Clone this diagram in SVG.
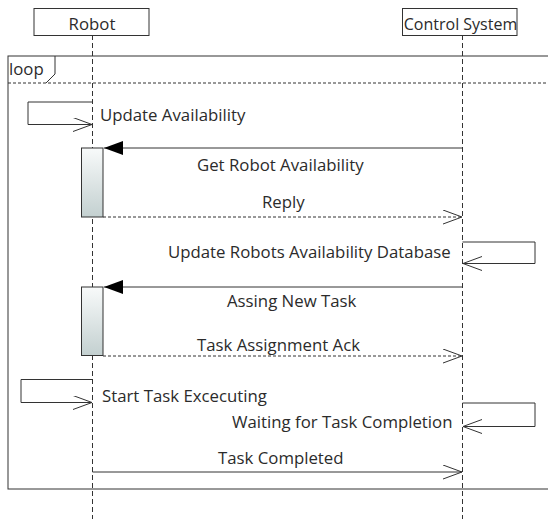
<svg xmlns="http://www.w3.org/2000/svg" width="548" height="519" viewBox="0 0 548 519">
  <style>
    text { font-family: "Open Sans", "Noto Sans", "DejaVu Sans", sans-serif; font-size: 16.8px; fill: #2b2b2b; }
    .box { fill: #ffffff; stroke: #333333; stroke-width: 1; }
    .life { stroke: #333333; stroke-width: 1; stroke-dasharray: 5 3; fill: none; }
    .frame { fill: none; stroke: #333333; stroke-width: 1; }
    .sep { stroke: #333333; stroke-width: 1; stroke-dasharray: 3 2; fill: none; }
    .msg { stroke: #333333; stroke-width: 1; fill: none; }
    .reply { stroke: #333333; stroke-width: 1; fill: none; stroke-dasharray: 3 2; }
    .act { fill: url(#actFill); stroke: #333333; stroke-width: 1; }
  </style>
  <defs>
    <linearGradient id="actFill" x1="0" y1="0" x2="0" y2="1">
      <stop offset="0" stop-color="#f8fafa"/>
      <stop offset="1" stop-color="#c3d0d0"/>
    </linearGradient>
    <marker id="open" markerUnits="userSpaceOnUse" markerWidth="22" markerHeight="16" refX="19" refY="7" orient="auto">
      <path d="M0,0 L19,7 L0,14" fill="none" stroke="#333333" stroke-width="1"/>
    </marker>
    <marker id="solid" markerUnits="userSpaceOnUse" markerWidth="22" markerHeight="16" refX="19" refY="7" orient="auto">
      <path d="M0,0 L19,7 L0,14 Z" fill="#000000"/>
    </marker>
  </defs>

  <rect width="548" height="519" fill="#ffffff"/>

  <!-- lifelines -->
  <g id="lifelines">
    <line class="life" x1="92.5" y1="35" x2="92.5" y2="519"/>
    <line class="life" x1="462.5" y1="35" x2="462.5" y2="519"/>
  </g>

  <!-- participants -->
  <g id="robot">
    <rect class="box" x="34" y="8.5" width="115" height="27"/>
    <text x="92" y="30" text-anchor="middle">Robot</text>
  </g>
  <g id="control-system">
    <rect class="box" x="402.5" y="8.5" width="114.5" height="27"/>
    <text x="460.5" y="30" text-anchor="middle" style="font-size:16px">Control System</text>
  </g>

  <!-- loop combined fragment -->
  <g id="loop">
    <rect class="frame" x="8" y="56" width="600" height="433"/>
    <polyline class="frame" points="55,56 55,74 46,83"/>
    <line class="sep" x1="8" y1="83" x2="548" y2="83"/>
    <text x="9" y="75">loop</text>
  </g>

  <!-- activation bars -->
  <g id="activation-1">
    <rect class="act" x="81.5" y="148" width="21.5" height="69"/>
  </g>
  <g id="activation-2">
    <rect class="act" x="81.5" y="287" width="21.5" height="68.5"/>
  </g>

  <!-- messages -->
  <g id="connectors">
    <path class="msg" d="M92.5,102 H28 V124.5 H92" marker-end="url(#open)"/>
    <line class="msg" x1="462.5" y1="148" x2="104" y2="148" marker-end="url(#solid)"/>
    <line class="reply" x1="103" y1="217" x2="462" y2="217" marker-end="url(#open)"/>
    <path class="msg" d="M462.5,242 H535 V263.5 H463" marker-end="url(#open)"/>
    <line class="msg" x1="462.5" y1="287" x2="104" y2="287" marker-end="url(#solid)"/>
    <line class="reply" x1="103" y1="356" x2="462" y2="356" marker-end="url(#open)"/>
    <path class="msg" d="M92.5,379.5 H21 V402.5 H92" marker-end="url(#open)"/>
    <path class="msg" d="M462.5,403 H535 V426.5 H463" marker-end="url(#open)"/>
    <line class="msg" x1="92.5" y1="472" x2="462" y2="472" marker-end="url(#open)"/>
  </g>

  <!-- message labels -->
  <g id="labels">
    <text x="100" y="121">Update Availability</text>
    <text x="197" y="171">Get Robot Availability</text>
    <text x="262" y="208">Reply</text>
    <text x="168" y="258">Update Robots Availability Database</text>
    <text x="227" y="307">Assing New Task</text>
    <text x="197" y="350.5">Task Assignment Ack</text>
    <text x="102" y="401.5">Start Task Excecuting</text>
    <text x="232" y="427.5">Waiting for Task Completion</text>
    <text x="218" y="464">Task Completed</text>
  </g>
</svg>
